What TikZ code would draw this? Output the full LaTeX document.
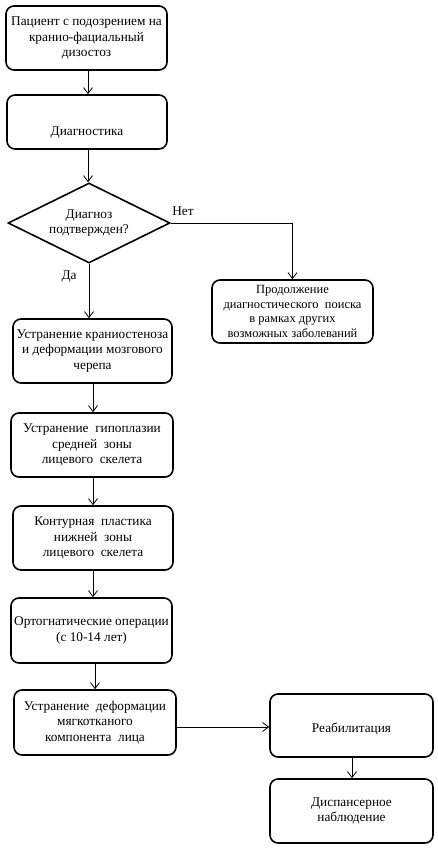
\documentclass[tikz,border=0pt]{standalone}
\usepackage{fontspec}
\setmainfont{Liberation Serif}
\usetikzlibrary{shapes.geometric,arrows.meta}
\begin{document}
\begin{tikzpicture}[x=1pt,y=-1pt,
  txt/.style={font=\fontsize{13.3}{15.5}\selectfont},
  box/.style={draw, line width=1.6pt, rounded corners=8pt, align=center, inner sep=0pt, txt},
  dia/.style={draw, line width=1.6pt, diamond, aspect=2, align=center, inner sep=0pt, txt},
  conn/.style={line width=0.8pt, -{Straight Barb[length=6pt,width=9pt]}},
  lbl/.style={txt, inner sep=0pt}]
\useasboundingbox (0,0) rectangle (437,850);
\node[box, minimum width=161pt, minimum height=64pt] (b1) at (86.5,38) {Пациент с подозрением на\\кранио-фациальный\\дизостоз};
\node[box, minimum width=160pt, minimum height=54pt, text height=31pt, text depth=3pt] (b2) at (87,122) {Диагностика};
\node[dia, minimum width=162pt, minimum height=80pt] (d) at (89,223) {Диагноз\\подтвержден?};
\node[box, minimum width=161pt, minimum height=63pt, font=\fontsize{12.5}{14.5}\selectfont] (r) at (292.5,311.5) {Продолжение\\диагностического\ \ поиска\\в рамках других\\возможных заболеваний};
\node[box, minimum width=159pt, minimum height=64pt] (b3) at (92.5,351) {Устранение краниостеноза\\и деформации мозгового\\черепа};
\node[box, minimum width=162pt, minimum height=64pt] (b4) at (92,445) {Устранение\ \ гипоплазии\\средней\ \ зоны\\лицевого\ \ скелета};
\node[box, minimum width=160pt, minimum height=64pt] (b5) at (93,538) {Контурная\ \ пластика\\нижней\ \ зоны\\лицевого\ \ скелета};
\node[box, minimum width=161pt, minimum height=65pt] (b6) at (91.5,630.5) {Ортогнатические операции\\(с 10-14 лет)};
\node[box, minimum width=162pt, minimum height=65pt] (b7) at (95,722.5) {Устранение\ \ деформации\\мягкотканого\\компонента\ \ лица};
\node[box, minimum width=163pt, minimum height=63pt, text height=16pt, text depth=3pt] (reab) at (351.5,725.5) {Реабилитация};
\node[box, minimum width=163pt, minimum height=64pt] (disp) at (351.5,811) {Диспансерное\\наблюдение};
\node[lbl] (no) at (183,211) {Нет};
\node[lbl] (yes) at (69,277) {Да};
\draw[conn] (b1.south -| 88,0) -- (b2.north -| 88,0);
\draw[conn] (b2.south -| 88,0) -- (d.north -| 88,0);
\draw[conn] (d.east) -| (r.north);
\draw[conn] (d.south) -- (d.south |- b3.north);
\draw[conn] (b3.south -| 93,0) -- (b4.north -| 93,0);
\draw[conn] (b4.south -| 93,0) -- (b5.north -| 93,0);
\draw[conn] (b5.south -| 93,0) -- (b6.north -| 93,0);
\draw[conn] (b6.south -| 95,0) -- (b7.north -| 95,0);
\draw[conn] (b7.east |- 0,727) -- (reab.west |- 0,727);
\draw[conn] (reab.south -| 352,0) -- (disp.north -| 352,0);
\end{tikzpicture}
\end{document}
